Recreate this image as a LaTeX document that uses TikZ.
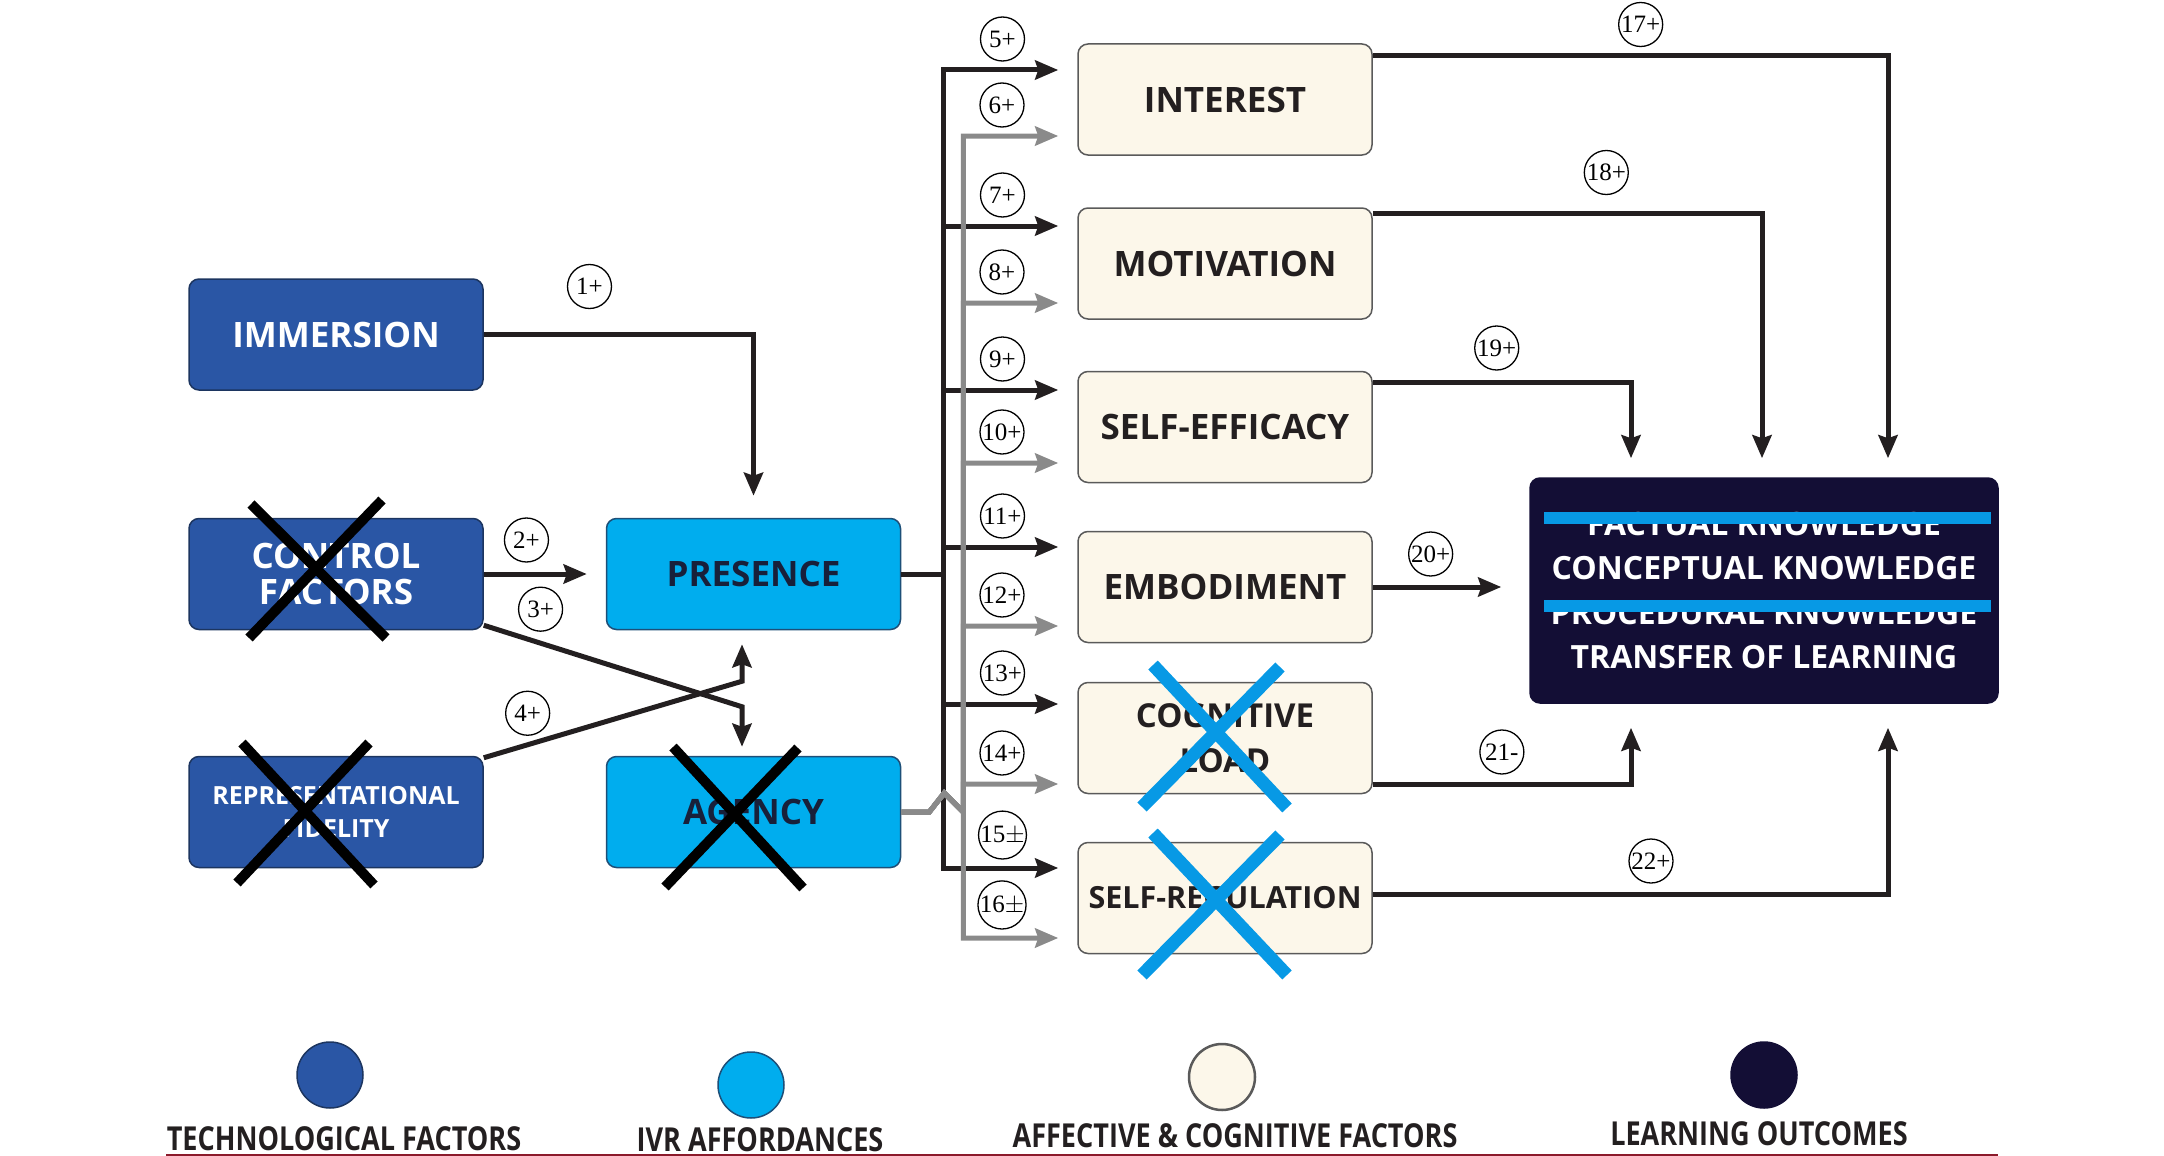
\documentclass[tikz,border=0pt]{standalone}
\usepackage{fontspec}
\setsansfont{Open Sans}
\newfontfamily\numfont{Liberation Serif}
\newfontfamily\legfont[FakeStretch=0.82]{Open Sans}
\usetikzlibrary{arrows.meta}

\definecolor{techblue}{HTML}{2A56A5}
\definecolor{techedge}{HTML}{1C3560}
\definecolor{ivrblue}{HTML}{00ADEE}
\definecolor{ivredge}{HTML}{1D4F78}
\definecolor{ivrtext}{HTML}{18203A}
\definecolor{cream}{HTML}{FCF7EA}
\definecolor{creamedge}{HTML}{5A5A5A}
\definecolor{navy}{HTML}{130E35}
\definecolor{ink}{HTML}{231F20}
\definecolor{greyline}{HTML}{8A8A8A}
\definecolor{crossblue}{HTML}{0799E5}
\definecolor{rule}{HTML}{8B1A2B}

\begin{document}
\begin{tikzpicture}[x=1pt, y=-1pt,
    box/.style={draw, rounded corners=10pt, minimum width=294pt, minimum height=111pt,
        inner sep=0pt, align=center, line width=1.5pt,
        font=\sffamily\bfseries\fontsize{35}{38}\selectfont},
    tech/.style={box, fill=techblue, draw=techedge, text=white},
    ivr/.style={box, fill=ivrblue, draw=ivredge, text=ivrtext},
    factor/.style={box, fill=cream, draw=creamedge, text=ink},
    outc/.style={box, fill=navy, draw=navy, text=white, minimum width=468pt, minimum height=225pt,
        font=\sffamily\bfseries\fontsize{32}{44.3}\selectfont},
    num/.style={circle, draw=black, line width=1.3pt, minimum size=44pt, inner sep=0pt,
        outer sep=0pt, fill=none, text=black, font=\numfont\fontsize{25}{25}\selectfont},
    blk/.style={draw=ink, line width=5pt, -{Stealth[length=23pt, width=19pt, inset=3pt]},
        shorten >=19pt},
    gry/.style={blk, draw=greyline},
    xblack/.style={line width=10pt, black},
    xblue/.style={line width=13pt, crossblue},
    legdot/.style={circle, minimum size=66pt, inner sep=0pt, line width=1.5pt},
    legtxt/.style={anchor=base, text=ink, font=\legfont\bfseries\fontsize{33}{36}\selectfont}]

    \useasboundingbox (0,0) rectangle (2164,1156);

    % Technological factors
    \node[tech] (immersion) at (336,334.5) {IMMERSION};
    \node[tech] (control) at (336,574) {CONTROL\\[-2pt]FACTORS};
    \node[tech, font=\sffamily\bfseries\fontsize{25}{33}\selectfont] (repfid) at (336,812)
        {REPRESENTATIONAL\\FIDELITY};

    % IVR affordances
    \node[ivr] (presence) at (753.5,574) {PRESENCE};
    \node[ivr] (agency) at (753.5,812) {AGENCY};

    % Affective and cognitive factors
    \node[factor] (interest) at (1225,99.5) {INTEREST};
    \node[factor] (motivation) at (1225,263.5) {MOTIVATION};
    \node[factor] (selfeff) at (1225,427) {SELF-EFFICACY};
    \node[factor] (embodiment) at (1225,587) {EMBODIMENT};
    \node[factor, font=\sffamily\bfseries\fontsize{33}{45}\selectfont] (cogload) at (1225,738)
        {COGNITIVE\\LOAD};
    \node[factor, font=\sffamily\bfseries\fontsize{30.5}{38}\selectfont] (selfreg) at (1225,898)
        {SELF-REGULATION};

    % Learning outcomes
    \node[outc] (outcome) at (1764,590.5)
        {FACTUAL KNOWLEDGE\\CONCEPTUAL KNOWLEDGE\\PROCEDURAL KNOWLEDGE\\TRANSFER OF LEARNING};

    % Into presence and agency
    \draw[blk, shorten >=22pt] (immersion.east) -| (presence.north)
        node[num, pos=0.196, above=26pt] {1+};
    \draw[blk] (control.east) -- (presence.west)
        node[num, pos=0.35, above=12pt] {2+};
    \draw[blk, shorten >=9pt] ([yshift=5pt]control.south east)
        -- ([xshift=-11.5pt, yshift=49pt]agency.north) node[num, pos=0.22, above=12pt] {3+}
        -- ([xshift=-11.5pt]agency.north);
    \draw[blk, shorten >=14pt] ([yshift=-2pt]repfid.north east)
        -- ([xshift=-11.5pt, yshift=-51pt]presence.south) node[num, pos=0.17, above=9.5pt] {4+}
        -- ([xshift=-11.5pt]presence.south);

    % Presence to the factors
    \draw[blk] (presence.east) -- ++(42.5,0) |- ([yshift=29.5pt]interest.west)
        node[num, pos=0.72, above=9pt] {5+};
    \draw[blk] (presence.east) -- ++(42.5,0) |- ([yshift=37.5pt]motivation.west)
        node[num, pos=0.72, above=9pt] {7+};
    \draw[blk] (presence.east) -- ++(42.5,0) |- ([yshift=37pt]selfeff.west)
        node[num, pos=0.72, above=9pt] {9+};
    \draw[blk] (presence.east) -- ++(42.5,0) |- ([yshift=40pt]embodiment.west)
        node[num, pos=0.72, above=9pt] {11+};
    \draw[blk] (presence.east) -- ++(42.5,0) |- ([yshift=34pt]cogload.west)
        node[num, pos=0.72, above=9pt] {13+};
    \draw[blk] (presence.east) -- ++(42.5,0) |- ([yshift=30pt]selfreg.west)
        node[num, pos=0.72, above=9pt] {15$\pm$};

    % Agency to the factors
    \draw[gry] (agency.east) -- ++(28,0) -- ++(15,-19) -- ++(19,19) |- ([yshift=-36.5pt]interest.west)
        node[num, pos=0.67, above=9pt] {6+};
    \draw[gry] (agency.east) -- ++(28,0) -- ++(15,-19) -- ++(19,19) |- ([yshift=-39.5pt]motivation.west)
        node[num, pos=0.67, above=9pt] {8+};
    \draw[gry] (agency.east) -- ++(28,0) -- ++(15,-19) -- ++(19,19) |- ([yshift=-36pt]selfeff.west)
        node[num, pos=0.67, above=9pt] {10+};
    \draw[gry] (agency.east) -- ++(28,0) -- ++(15,-19) -- ++(19,19) |- ([yshift=-39pt]embodiment.west)
        node[num, pos=0.67, above=9pt] {12+};
    \draw[gry] (agency.east) -- ++(28,0) -- ++(15,-19) -- ++(19,19) |- ([yshift=-46pt]cogload.west)
        node[num, pos=0.67, above=9pt] {14+};
    \draw[gry] (agency.east) -- ++(28,0) -- ++(15,-19) -- ++(19,19) |- ([yshift=-40pt]selfreg.west)
        node[num, pos=0.67, above=9pt] {16$\pm$};

    % Factors to learning outcomes
    \draw[blk] ([yshift=44pt]interest.east) -| ([xshift=124pt]outcome.north)
        node[num, pos=0.26, above=9pt] {17+};
    \draw[blk] ([yshift=50pt]motivation.east) -| ([xshift=-2pt]outcome.north)
        node[num, pos=0.30, above=19pt] {18+};
    \draw[blk] ([yshift=45pt]selfeff.east) -| ([xshift=-133pt]outcome.north)
        node[num, pos=0.24, above=12pt] {19+};
    \draw[blk, shorten >=28pt] (embodiment.east) -- (embodiment.east -| outcome.west)
        node[num, pos=0.37, above=11pt] {20+};
    \draw[blk, shorten >=24pt] ([yshift=-46pt]cogload.east) -| ([xshift=-133pt]outcome.south)
        node[num, pos=0.25, above=10pt] {21-};
    \draw[blk, shorten >=24pt] ([yshift=4pt]selfreg.east) -| ([xshift=124pt]outcome.south)
        node[num, pos=0.27, above=11pt] {22+};

    % Crossed out
    \draw[xblack] (251,504) -- (386,638) (382,500) -- (249,638);
    \draw[xblack] (242,743) -- (374,885) (369,743) -- (237,883);
    \draw[xblack] (673,747) -- (803,888) (798,748) -- (665,887);
    \draw[xblue] (1153,665) -- (1287,808) (1280,667) -- (1142,807);
    \draw[xblue] (1153,833) -- (1287,975) (1280,835) -- (1142,975);
    \draw[line width=12pt, crossblue] (1544,518) -- (1991,518) (1544,606) -- (1991,606);

    % Legend
    \node[legdot, fill=techblue, draw=techedge] (dottech) at (330,1075) {};
    \node[legdot, fill=ivrblue, draw=ivredge] (dotivr) at (751,1085) {};
    \node[legdot, fill=cream, draw=creamedge, line width=2.5pt] (dotfactor) at (1222,1077) {};
    \node[legdot, fill=navy, draw=navy] (dotout) at (1764,1075) {};
    \node[legtxt] (legtech) at (344,1150) {TECHNOLOGICAL FACTORS};
    \node[legtxt] (legivr) at (760,1151) {IVR AFFORDANCES};
    \node[legtxt] (legfactor) at (1235,1147) {AFFECTIVE \& COGNITIVE FACTORS};
    \node[legtxt] (legout) at (1759,1145) {LEARNING OUTCOMES};
    \draw[rule, line width=2pt] (166,1155) -- (1998,1155);

\end{tikzpicture}
\end{document}
